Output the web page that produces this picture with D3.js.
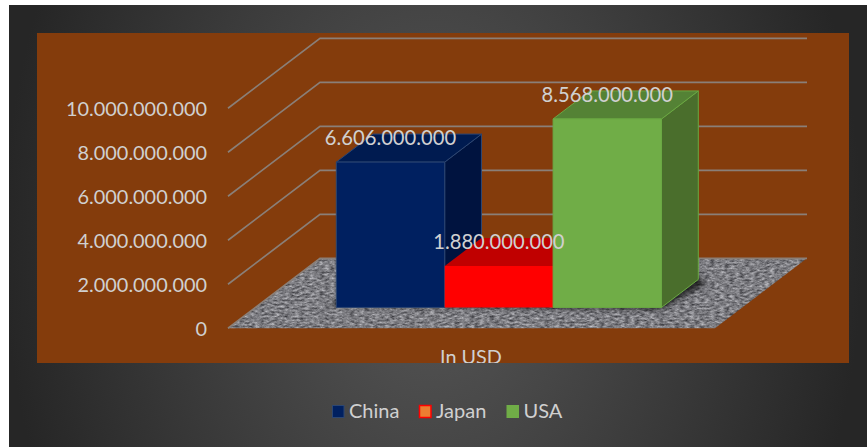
<!DOCTYPE html>
<html>
<head>
<meta charset="utf-8">
<style>
html,body{margin:0;padding:0;background:#fff}
svg{display:block}
text{font-family:Lato,"Open Sans",sans-serif;fill:#d0d0d0}
</style>
<script src="https://cdn.jsdelivr.net/npm/d3@7/dist/d3.min.js"></script>
</head>
<body>
<script>
// Chart data
const categories = ["China", "Japan", "USA"];
const values = [6606000000, 1880000000, 8568000000];
const axisTicks = [0, 2000000000, 4000000000, 6000000000, 8000000000, 10000000000];
const axisTitle = "In USD";
const barColors = {
  China: {front: "#002060", top: "#001b50", side: "#00133f", edge: "#2c4672"},
  Japan: {front: "#ff0000", top: "#c00000", side: "#a00000", edge: "#ff0000"},
  USA:   {front: "#70ad47", top: "#548235", side: "#4a6e2c", edge: "#6aa843"}
};
const legendFills = {China: "#002060", Japan: "#ed7d31", USA: "#70ad47"};
const legendEdges = {China: "#2c4672", Japan: "#ff0000", USA: "#70ad47"};

const W = 867, H = 447;
const svg = d3.select("body").append("svg").attr("width", W).attr("height", H);
const defs = svg.append("defs");

const glow = defs.append("radialGradient").attr("id", "chartBg")
  .attr("gradientUnits", "userSpaceOnUse")
  .attr("gradientTransform", "translate(433,240) scale(1,1.4)")
  .attr("cx", 0).attr("cy", 0).attr("r", 430);
glow.append("stop").attr("offset", 0).attr("stop-color", "#585858");
glow.append("stop").attr("offset", 1).attr("stop-color", "#262626");

defs.append("clipPath").attr("id", "panelClip").append("rect")
  .attr("x", 37).attr("y", 33).attr("width", 812).attr("height", 330);

// Speckled stone texture for the floor
const stone = defs.append("filter").attr("id", "stone")
  .attr("x", 0).attr("y", 0).attr("width", 1).attr("height", 1)
  .attr("color-interpolation-filters", "sRGB");
stone.append("feTurbulence").attr("type", "fractalNoise")
  .attr("baseFrequency", "0.2 0.5").attr("numOctaves", 3).attr("seed", 4);
stone.append("feColorMatrix").attr("type", "matrix")
  .attr("values", "0.7 0 0 0 0.14  0.7 0 0 0 0.14  0.7 0 0 0 0.16  0 0 0 0 1");
stone.append("feGaussianBlur").attr("stdDeviation", 0.6);

defs.append("filter").attr("id", "soft")
  .attr("x", "-10%").attr("y", "-50%").attr("width", "120%").attr("height", "200%")
  .append("feGaussianBlur").attr("stdDeviation", 2.5);

// Scales: value to height, plus an oblique projection for depth
const yScale = d3.scaleLinear().domain([0, 10000000000]).range([0, 220]);
const depthX = d3.scaleLinear().domain([0, 1]).range([0, 92]);
const depthY = d3.scaleLinear().domain([0, 1]).range([0, 70]);
const floorLeft = 228, floorRight = 715, floorFront = 328.3;
const barDepth = [0.298, 0.698]; // share of the floor depth occupied by bars
const xBand = d3.scaleBand().domain(categories).range([336.3, 661.5]).padding(0);

// Projects (screen x on the front plane, value, depth) to page coordinates
const project = (x, v, d) => [x + depthX(d), floorFront - yScale(v) - depthY(d)];
const poly = pts => pts.map(p => p.join(",")).join(" ");

svg.append("rect").attr("x", 9).attr("y", 5).attr("width", W - 9).attr("height", H - 5)
  .attr("fill", "url(#chartBg)");
svg.append("rect").attr("x", 37).attr("y", 33).attr("width", 812).attr("height", 330)
  .attr("fill", "#843c0c");

const panel = svg.append("g").attr("clip-path", "url(#panelClip)");

// Floor
const floorPts = [project(floorLeft, 0, 0), project(floorRight, 0, 0), project(floorRight, 0, 1), project(floorLeft, 0, 1)];
defs.append("clipPath").attr("id", "floorClip").append("polygon").attr("points", poly(floorPts));
panel.append("g").attr("clip-path", "url(#floorClip)")
  .append("rect").attr("x", floorLeft).attr("y", 250).attr("width", floorRight + 93 - floorLeft).attr("height", 85)
  .attr("filter", "url(#stone)");

// Side and back wall gridlines
const grid = panel.append("g").attr("fill", "none").attr("stroke", "#8a7f78").attr("stroke-width", 1.7);
grid.selectAll("polyline").data(axisTicks).join("polyline")
  .attr("points", t => poly([project(floorLeft, t, 0), project(floorLeft, t, 1), project(floorRight, t, 1)]));

// Axis labels
const fmt = v => d3.format(",")(v).replace(/,/g, ".");
svg.append("g").selectAll("text").data(axisTicks).join("text")
  .attr("x", 207)
  .attr("y", t => project(floorLeft, t, 0)[1] + 7.5)
  .attr("text-anchor", "end")
  .attr("font-size", 19.9)
  .text(fmt);

// Contact shadow under the bars
const x0 = xBand.range()[0], x1 = xBand.range()[1];
panel.append("polygon")
  .attr("points", poly([
    [x0 - 6, project(0, 0, barDepth[0])[1] - 2],
    [x1, project(0, 0, barDepth[0])[1] + 2],
    [x1 + depthX(barDepth[1] - barDepth[0]) + 8, project(0, 0, barDepth[1])[1] + 4],
    [x1 + depthX(barDepth[1] - barDepth[0]), project(0, 0, barDepth[1])[1] - 4],
    [x0, project(0, 0, barDepth[0])[1] - 8]
  ]))
  .attr("fill", "#111").attr("opacity", 0.75).attr("filter", "url(#soft)");

// Bars: each is a side face, a top face and a front face
const bars = panel.append("g").selectAll("g")
  .data(categories.map((c, i) => ({c, v: values[i]})))
  .join("g");

const base = d => xBand(d.c) - depthX(barDepth[0]);
const corner = (d, right, v, depth) =>
  project(base(d) + (right ? xBand.bandwidth() : 0), v, depth);

bars.append("polygon")
  .attr("points", d => poly([
    corner(d, true, 0, barDepth[0]), corner(d, true, 0, barDepth[1]),
    corner(d, true, d.v, barDepth[1]), corner(d, true, d.v, barDepth[0])]))
  .attr("fill", d => barColors[d.c].side)
  .attr("stroke", d => barColors[d.c].edge);
bars.append("polygon")
  .attr("points", d => poly([
    corner(d, false, d.v, barDepth[0]), corner(d, true, d.v, barDepth[0]),
    corner(d, true, d.v, barDepth[1]), corner(d, false, d.v, barDepth[1])]))
  .attr("fill", d => barColors[d.c].top)
  .attr("stroke", d => d.c === "Japan" ? "none" : barColors[d.c].edge);
bars.append("polygon")
  .attr("points", d => poly([
    corner(d, false, 0, barDepth[0]), corner(d, true, 0, barDepth[0]),
    corner(d, true, d.v, barDepth[0]), corner(d, false, d.v, barDepth[0])]))
  .attr("fill", d => barColors[d.c].front)
  .attr("stroke", d => d.c === "Japan" ? "none" : barColors[d.c].edge);

// Value labels
svg.append("g").selectAll("text")
  .data(categories.map((c, i) => ({c, v: values[i]})))
  .join("text")
  .attr("x", d => xBand(d.c) + xBand.bandwidth() / 2)
  .attr("y", d => corner(d, false, d.v, barDepth[0])[1] - 17)
  .attr("text-anchor", "middle")
  .attr("font-size", 20.2)
  .text(d => fmt(d.v));

// Category axis title, cut off by the panel edge
panel.append("text")
  .attr("x", 471).attr("y", 364)
  .attr("text-anchor", "middle").attr("font-size", 19.8)
  .text(axisTitle);

// Legend
const legendX = d3.scaleOrdinal().domain(categories).range([332, 419, 506.5]);
const legend = svg.append("g").selectAll("g").data(categories).join("g")
  .attr("transform", c => `translate(${legendX(c)},405)`);
legend.append("rect")
  .attr("x", .5).attr("y", .5).attr("width", 11.5).attr("height", 12)
  .attr("fill", c => legendFills[c])
  .attr("stroke", c => legendEdges[c])
  .attr("stroke-width", c => c === "Japan" ? 1.5 : 1);
legend.append("text")
  .attr("x", 17).attr("y", 13)
  .attr("font-size", 20)
  .text(c => c);
</script>
</body>
</html>
